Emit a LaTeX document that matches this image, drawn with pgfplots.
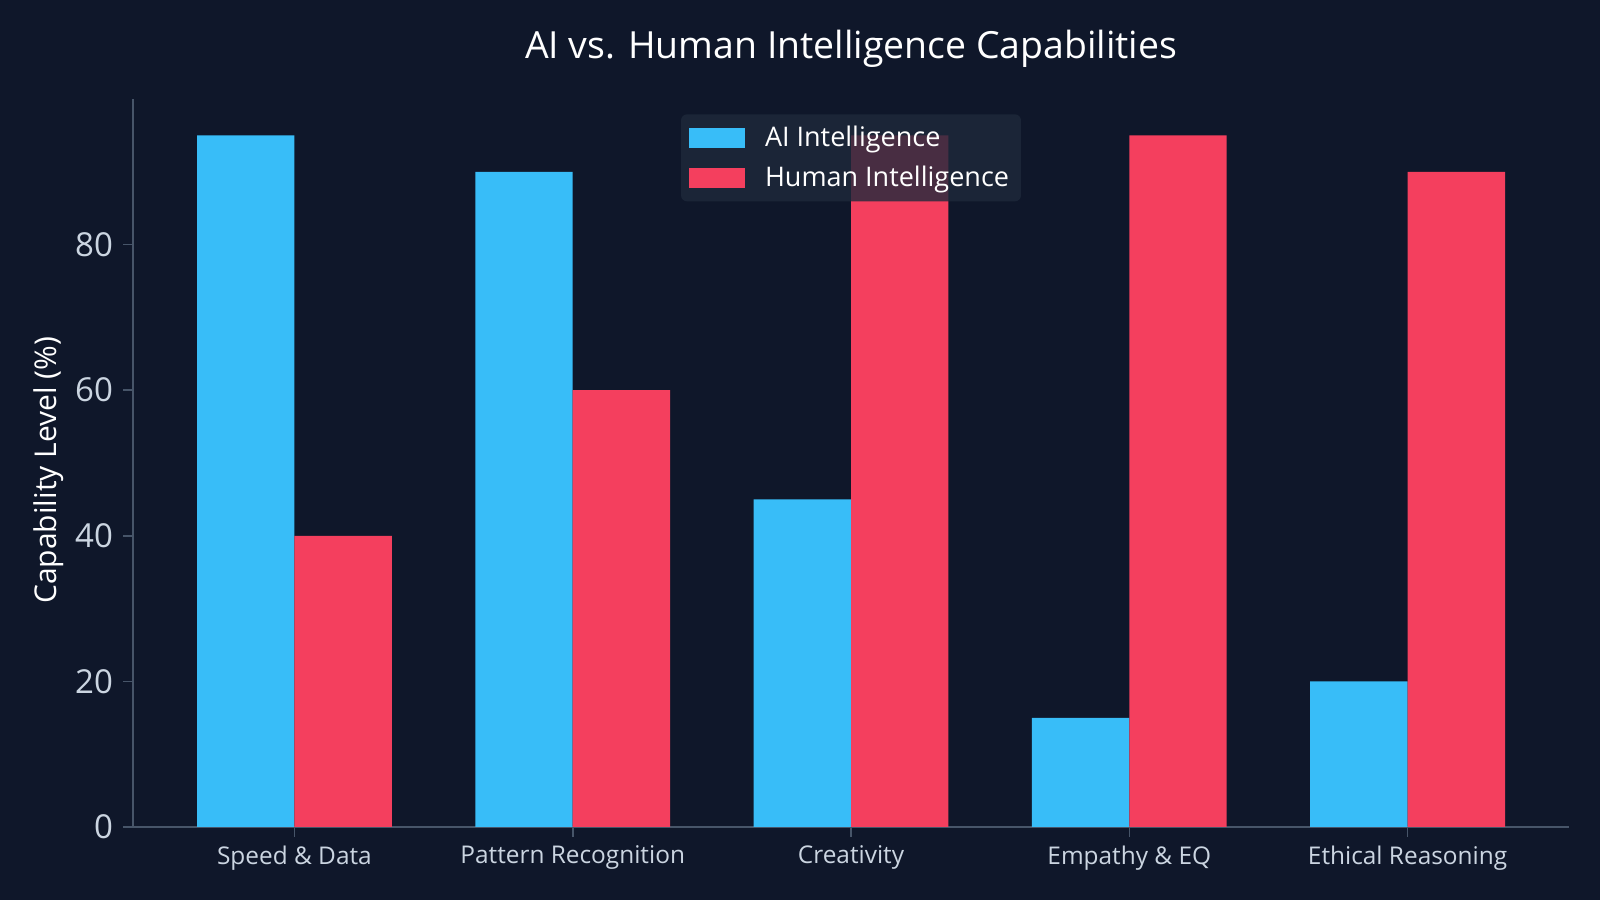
\documentclass[border=0pt]{standalone}
\usepackage{pgfplots}
\pgfplotsset{compat=1.18}
\usepackage{fontspec}
\setmainfont{Open Sans}
\definecolor{bg}{RGB}{15,23,42}
\definecolor{spine}{RGB}{71,85,105}
\definecolor{ticklab}{RGB}{203,213,225}
\definecolor{legfill}{RGB}{30,41,59}
\definecolor{aiblue}{RGB}{56,189,248}
\definecolor{humred}{RGB}{244,63,94}
\begin{document}
\begin{tikzpicture}
\fill[bg] (0,0) rectangle (800bp,450bp);
\begin{axis}[
  at={(66.5bp,36.5bp)}, anchor=south west,
  scale only axis, width=718bp, height=364bp,
  xmin=-0.58, xmax=4.58, ymin=0, ymax=100,
  axis lines*=left,
  axis line style={spine, line width=0.8bp},
  ybar, bar width=0.35,
  xtick={0,1,2,3,4},
  xticklabels={Speed \& Data, Pattern Recognition, Creativity, Empathy \& EQ, Ethical Reasoning},
  ytick={0,20,40,60,80},
  tick style={spine, line width=0.8bp},
  major tick length=5bp,
  tick align=outside,
  /pgf/number format/assume math mode=true,
  xticklabel style={font=\fontsize{12.2bp}{15bp}\selectfont, text=ticklab, yshift=-1bp},
  yticklabel style={font=\fontsize{16.5bp}{19bp}\selectfont, text=ticklab, xshift=-1.5bp},
  ylabel={Capability Level (\%)},
  ylabel style={at={(axis description cs:-0.059,0.49)}, anchor=center, font=\fontsize{15bp}{18bp}\selectfont, text=white},
  title={AI vs. Human Intelligence Capabilities},
  title style={at={(0.5,1)}, anchor=center, yshift=19bp, font=\fontsize{18.7bp}{23bp}\selectfont, text=white},
  legend style={at={(0.5,1)}, anchor=north, yshift=-7.5bp, fill=legfill, fill opacity=0.8, text opacity=1, draw=none, rounded corners=3bp, font=\fontsize{13.5bp}{16bp}\selectfont, text=white, inner xsep=4bp, inner ysep=4bp, row sep=4bp},
  legend cell align=left,
]
\addplot[fill=aiblue, draw=none, bar shift=-0.175,
  legend image code/.code={\fill[aiblue, fill opacity=1, sharp corners] (2.5bp,-5bp) rectangle (30.5bp,5bp); \path (38.5bp,0bp);}]
  coordinates {(0,95) (1,90) (2,45) (3,15) (4,20)};
\addlegendentry{AI Intelligence}
\addplot[fill=humred, draw=none, bar shift=0.175,
  legend image code/.code={\fill[humred, fill opacity=1, sharp corners] (2.5bp,-5bp) rectangle (30.5bp,5bp); \path (38.5bp,0bp);}]
  coordinates {(0,40) (1,60) (2,95) (3,95) (4,90)};
\addlegendentry{Human Intelligence}
\end{axis}
\end{tikzpicture}
\end{document}
